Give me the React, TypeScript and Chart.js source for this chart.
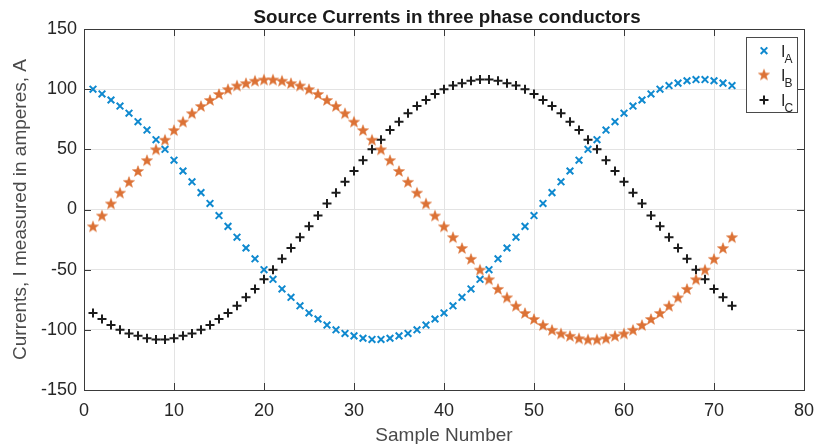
import React, { useEffect, useRef } from 'react';
import { Chart, registerables } from 'chart.js';

Chart.register(...registerables);

const sampleNumbers = [
  1, 2, 3, 4, 5, 6, 7, 8, 9, 10, 11, 12, 13, 14, 15, 16, 17, 18, 19, 20, 21, 22, 23, 24,
  25, 26, 27, 28, 29, 30, 31, 32, 33, 34, 35, 36, 37, 38, 39, 40, 41, 42, 43, 44, 45, 46, 47, 48,
  49, 50, 51, 52, 53, 54, 55, 56, 57, 58, 59, 60, 61, 62, 63, 64, 65, 66, 67, 68, 69, 70, 71, 72,
];

const currentA = [
  100, 96, 91, 86, 80, 73, 66, 58, 50, 41, 32, 23, 14, 5,
  -5, -14, -23, -32, -41, -50, -58, -66, -73, -80, -86, -91, -96, -100, -103, -105, -107, -108,
  -108, -107, -105, -103, -100, -96, -91, -86, -80, -73, -66, -58, -50, -41, -32, -23, -14, -5,
  5, 14, 23, 32, 41, 50, 58, 66, 73, 80, 86, 91, 96, 100, 103, 105, 107, 108,
  108, 107, 105, 103,
];

const currentB = [
  -14, -5, 5, 14, 23, 32, 41, 50, 58, 66, 73, 80, 86, 91, 96, 100, 103, 105, 107, 108,
  108, 107, 105, 103, 100, 96, 91, 86, 80, 73, 66, 58, 50, 41, 32, 23, 14, 5,
  -5, -14, -23, -32, -41, -50, -58, -66, -73, -80, -86, -91, -96, -100, -103, -105, -107, -108,
  -108, -107, -105, -103, -100, -96, -91, -86, -80, -73, -66, -58, -50, -41, -32, -23,
];

const currentC = [
  -86, -91, -96, -100, -103, -105, -107, -108,
  -108, -107, -105, -103, -100, -96, -91, -86, -80, -73, -66, -58, -50, -41, -32, -23, -14, -5,
  5, 14, 23, 32, 41, 50, 58, 66, 73, 80, 86, 91, 96, 100, 103, 105, 107, 108,
  108, 107, 105, 103, 100, 96, 91, 86, 80, 73, 66, 58, 50, 41, 32, 23, 14, 5,
  -5, -14, -23, -32, -41, -50, -58, -66, -73, -80,
];

const seriesNames = ['A', 'B', 'C'];
const xTicks = [0, 10, 20, 30, 40, 50, 60, 70, 80];
const yTicks = [-150, -100, -50, 0, 50, 100, 150];

const titleText = 'Source Currents in three phase conductors';
const xLabel = 'Sample Number';
const yLabel = 'Currents, I measured in amperes, A';

const BLUE = '#0f89cf';
const ORANGE = '#dc7236';
const BLACK = '#1c1c1c';
const FONT = '"Liberation Sans", Arial, Helvetica, sans-serif';

function makeStar(color: string, ro: number): HTMLCanvasElement {
  const c = document.createElement('canvas');
  const s = 14;
  c.width = s;
  c.height = s;
  const ctx = c.getContext('2d')!;
  const cx = s / 2;
  const cy = s / 2 + 0.6;
  const ri = ro * 0.42;
  ctx.beginPath();
  for (let i = 0; i < 10; i++) {
    const r = i % 2 === 0 ? ro : ri;
    const a = -Math.PI / 2 + (i * Math.PI) / 5;
    const px = cx + r * Math.cos(a);
    const py = cy + r * Math.sin(a);
    if (i === 0) ctx.moveTo(px, py);
    else ctx.lineTo(px, py);
  }
  ctx.closePath();
  ctx.fillStyle = color;
  ctx.fill();
  ctx.lineWidth = 0.5;
  ctx.strokeStyle = color;
  ctx.stroke();
  return c;
}

function drawCross(ctx: CanvasRenderingContext2D, x: number, y: number, r: number, color: string, rot: boolean) {
  ctx.save();
  ctx.strokeStyle = color;
  ctx.lineWidth = 2;
  ctx.beginPath();
  if (rot) {
    ctx.moveTo(x - r, y - r);
    ctx.lineTo(x + r, y + r);
    ctx.moveTo(x + r, y - r);
    ctx.lineTo(x - r, y + r);
  } else {
    ctx.moveTo(x - r, y);
    ctx.lineTo(x + r, y);
    ctx.moveTo(x, y - r);
    ctx.lineTo(x, y + r);
  }
  ctx.stroke();
  ctx.restore();
}

export default function App() {
  const ref = useRef<HTMLCanvasElement | null>(null);

  useEffect(() => {
    const canvas = ref.current;
    if (!canvas) return;
    const star = makeStar(ORANGE, 5.9);

    const decor = {
      id: 'decor',
      afterDraw(chart: any) {
        const ctx: CanvasRenderingContext2D = chart.ctx;
        const { left, right, top, bottom } = chart.chartArea;
        const xs = chart.scales.x;
        const ys = chart.scales.y;
        ctx.save();
        ctx.strokeStyle = '#3a3a3a';
        ctx.lineWidth = 1;
        ctx.strokeRect(Math.round(left) + 0.5, Math.round(top) + 0.5, Math.round(right - left), Math.round(bottom - top));
        const tl = 7;
        ctx.beginPath();
        for (const v of xTicks) {
          const px = Math.round(xs.getPixelForValue(v)) + 0.5;
          ctx.moveTo(px, bottom);
          ctx.lineTo(px, bottom - tl);
          ctx.moveTo(px, top);
          ctx.lineTo(px, top + tl);
        }
        for (const v of yTicks) {
          const py = Math.round(ys.getPixelForValue(v)) + 0.5;
          ctx.moveTo(left, py);
          ctx.lineTo(left + tl, py);
          ctx.moveTo(right, py);
          ctx.lineTo(right - tl, py);
        }
        ctx.stroke();

        ctx.fillStyle = '#1a1a1a';
        ctx.font = `bold 18.8px ${FONT}`;
        ctx.textAlign = 'center';
        ctx.textBaseline = 'alphabetic';
        ctx.fillText(titleText, (left + right) / 2 + 3, 22.5);

        ctx.fillStyle = '#4a4a4a';
        ctx.font = `19px ${FONT}`;
        ctx.fillText(xLabel, (left + right) / 2, 441);

        ctx.save();
        ctx.translate(25.5, (top + bottom) / 2);
        ctx.rotate(-Math.PI / 2);
        ctx.fillText(yLabel, 0, 0);
        ctx.restore();

        const bx = 746.5, by = 37.5, bw = 51, bh = 75;
        ctx.fillStyle = '#ffffff';
        ctx.fillRect(bx, by, bw, bh);
        ctx.strokeStyle = '#4a4a4a';
        ctx.lineWidth = 1;
        ctx.strokeRect(bx, by, bw, bh);
        const rows = [50.7, 75, 100];
        const mx = 764;
        drawCross(ctx, mx, rows[0], 3.3, BLUE, true);
        ctx.drawImage(star, mx - 7, rows[1] - 7.5);
        drawCross(ctx, mx, rows[2], 4.5, BLACK, false);
        ctx.fillStyle = '#262626';
        ctx.textAlign = 'left';
        for (let i = 0; i < 3; i++) {
          ctx.font = `16px ${FONT}`;
          ctx.fillText('I', 781, rows[i] + 6);
          ctx.font = `12px ${FONT}`;
          ctx.fillText(seriesNames[i], 784.5, rows[i] + 12);
        }
        ctx.restore();
      },
    };

    const toPts = (vals: number[]) => sampleNumbers.map((x, i) => ({ x, y: vals[i] }));

    const chart = new Chart(canvas, {
      type: 'scatter',
      data: {
        datasets: [
          {
            label: 'I_A',
            data: toPts(currentA),
            pointStyle: 'crossRot',
            pointRadius: 4.7,
            borderColor: BLUE,
            backgroundColor: BLUE,
            borderWidth: 2,
          },
          {
            label: 'I_B',
            data: toPts(currentB),
            pointStyle: star as any,
            pointRadius: 6,
            borderColor: ORANGE,
            backgroundColor: ORANGE,
          },
          {
            label: 'I_C',
            data: toPts(currentC),
            pointStyle: 'cross',
            pointRadius: 4.5,
            borderColor: BLACK,
            backgroundColor: BLACK,
            borderWidth: 2,
          },
        ],
      },
      options: {
        responsive: false,
        animation: false,
        events: [],
        layout: { padding: { top: 29, right: 13, left: 0, bottom: 0 } },
        plugins: {
          legend: { display: false },
          title: { display: false },
          tooltip: { enabled: false },
        },
        scales: {
          x: {
            type: 'linear',
            min: 0,
            max: 80,
            afterFit: (s: any) => {
              s.height = 54;
              s.paddingLeft = 0;
              s.paddingRight = 0;
            },
            afterBuildTicks: (s: any) => {
              s.ticks = xTicks.map((v) => ({ value: v }));
            },
            ticks: {
              color: '#262626',
              font: { family: FONT, size: 18 },
              padding: 10,
              maxRotation: 0,
              autoSkip: false,
            },
            grid: { color: '#e3e3e3', drawTicks: false },
            border: { display: false },
          },
          y: {
            type: 'linear',
            min: -150,
            max: 150,
            afterFit: (s: any) => {
              s.width = 84;
              s.paddingTop = 0;
              s.paddingBottom = 0;
            },
            afterBuildTicks: (s: any) => {
              s.ticks = yTicks.map((v) => ({ value: v }));
            },
            ticks: {
              color: '#262626',
              font: { family: FONT, size: 18 },
              padding: 7,
              autoSkip: false,
              callback: (v: any) => String(v),
            },
            grid: { color: '#e3e3e3', drawTicks: false },
            border: { display: false },
          },
        },
      },
      plugins: [decor],
    });

    return () => {
      chart.destroy();
    };
  }, []);

  return (
    <div style={{ position: 'fixed', left: 0, top: 0, width: 817, height: 444, background: '#fff' }}>
      <canvas ref={ref} width={817} height={444} style={{ display: 'block' }} />
    </div>
  );
}
